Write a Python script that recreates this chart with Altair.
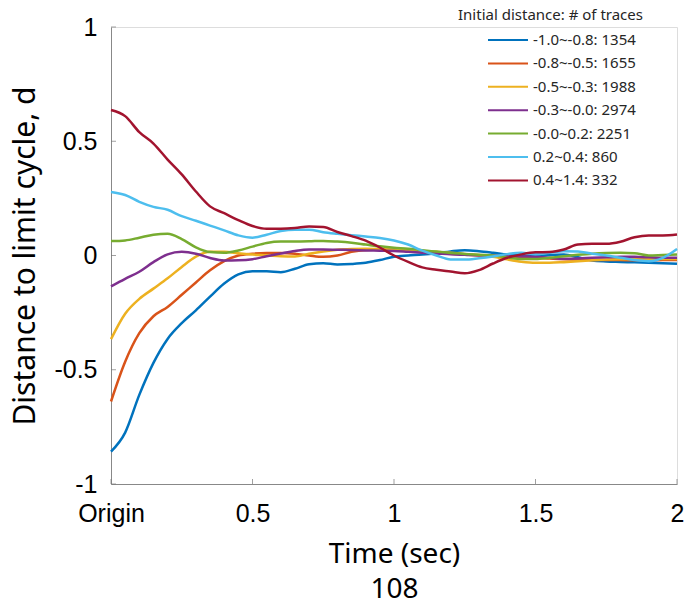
import altair as alt
import pandas as pd

# ---- data ----
TIME = [round(i * 0.05, 2) for i in range(41)]

SERIES = ["-1.0~-0.8: 1354", "-0.8~-0.5: 1655", "-0.5~-0.3: 1988",
          "-0.3~-0.0: 2974", "-0.0~0.2: 2251", "0.2~0.4: 860", "0.4~1.4: 332"]
COLORS = ["#0072BD", "#D95319", "#EDB120", "#7E2F8E", "#77AC30", "#4DBEEE", "#A2142F"]

BLUE = [-0.858, -0.775, -0.61, -0.47, -0.365, -0.296, -0.24, -0.18, -0.123, -0.083,
        -0.069, -0.069, -0.073, -0.058, -0.038, -0.034, -0.039, -0.037, -0.032, -0.02,
        -0.005, 0.0, 0.004, 0.01, 0.018, 0.023, 0.019, 0.012, 0.004, 0.0,
        -0.003, 0.002, 0.004, -0.008, -0.022, -0.026, -0.028, -0.03, -0.032, -0.034, -0.036]
ORANGE = [-0.639, -0.465, -0.34, -0.266, -0.225, -0.172, -0.118, -0.065, -0.025, 0.0,
          0.008, 0.011, 0.011, 0.008, 0.0, -0.006, 0.0, 0.016, 0.024, 0.026,
          0.026, 0.022, 0.017, 0.012, 0.008, 0.004, 0.0, -0.003, -0.006, -0.009,
          -0.01, -0.013, -0.016, -0.018, -0.02, -0.02, -0.02, -0.021, -0.021, -0.02, -0.02]
YELLOW = [-0.366, -0.255, -0.19, -0.145, -0.1, -0.05, -0.005, 0.016, 0.016, 0.01,
          0.004, 0.001, -0.003, -0.004, 0.008, 0.018, 0.025, 0.028, 0.029, 0.028,
          0.026, 0.024, 0.02, 0.016, 0.012, 0.007, 0.002, -0.005, -0.017, -0.027,
          -0.032, -0.032, -0.029, -0.025, -0.021, -0.018, -0.016, -0.015, -0.015, -0.015, -0.015]
PURPLE = [-0.135, -0.102, -0.071, -0.029, 0.005, 0.016, 0.008, -0.011, -0.022, -0.021,
          -0.016, -0.003, 0.009, 0.02, 0.026, 0.026, 0.025, 0.024, 0.022, 0.021,
          0.02, 0.016, 0.012, 0.009, 0.005, 0.003, 0.001, 0.0, -0.002, -0.004,
          -0.006, -0.01, -0.014, -0.013, -0.01, -0.008, -0.006, -0.006, -0.008, -0.01, -0.01]
GREEN = [0.063, 0.066, 0.078, 0.091, 0.095, 0.072, 0.036, 0.015, 0.012, 0.022,
         0.039, 0.055, 0.061, 0.061, 0.062, 0.064, 0.061, 0.056, 0.048, 0.04,
         0.034, 0.03, 0.023, 0.017, 0.011, 0.007, 0.003, 0.0, -0.008, -0.015,
         -0.015, -0.01, -0.003, 0.003, 0.008, 0.011, 0.012, 0.01, 0.0, 0.002, 0.004]
LIGHTBLUE = [0.278, 0.265, 0.235, 0.213, 0.2, 0.172, 0.152, 0.131, 0.11, 0.088,
             0.078, 0.091, 0.107, 0.113, 0.113, 0.102, 0.095, 0.089, 0.083, 0.077,
             0.066, 0.048, 0.021, 0.0, -0.017, -0.018, -0.012, -0.004, 0.006, 0.012,
             0.006, 0.012, 0.019, 0.017, 0.008, 0.0, -0.01, -0.02, -0.025, -0.01, 0.029]
RED = [0.637, 0.61, 0.54, 0.49, 0.42, 0.355, 0.28, 0.215, 0.185, 0.155,
       0.129, 0.117, 0.117, 0.12, 0.127, 0.125, 0.103, 0.085, 0.065, 0.035,
       0.0, -0.028, -0.052, -0.062, -0.07, -0.078, -0.064, -0.035, -0.01, 0.005,
       0.014, 0.015, 0.026, 0.048, 0.051, 0.051, 0.06, 0.08, 0.088, 0.088, 0.092]

VALUES = [BLUE, ORANGE, YELLOW, PURPLE, GREEN, LIGHTBLUE, RED]

X_TICKS = [0, 0.5, 1, 1.5, 2]
X_TICK_LABELS = ["Origin", "0.5", "1", "1.5", "2"]
Y_TICKS = [-1, -0.5, 0, 0.5, 1]
Y_TICK_LABELS = ["-1", "-0.5", "0", "0.5", "1"]

rows = []
for name, vals in zip(SERIES, VALUES):
    for t, v in zip(TIME, vals):
        rows.append({"t": t, "d": v, "series": name})
df = pd.DataFrame(rows)

def label_expr(ticks, labels):
    parts = " : ".join(f"datum.value == {v} ? '{l}'" for v, l in zip(ticks, labels))
    return parts + " : ''"

FONT = "Noto Sans"
TXT = "#262626"
W, H = 566, 457

x_scale = alt.Scale(domain=[0, 2], nice=False)
y_scale = alt.Scale(domain=[-1, 1], nice=False)

lines = alt.Chart(df).mark_line(strokeWidth=2.5, interpolate="monotone").encode(
    x=alt.X("t:Q", scale=x_scale,
            axis=alt.Axis(values=X_TICKS, labelExpr=label_expr(X_TICKS, X_TICK_LABELS),
                          title=["Time (sec)", "108"], titleLineHeight=35,
                          titleBaseline="top", titleY=56, titleFontSize=28,
                          titleFontWeight="normal", titleFont=FONT,
                          labelFontSize=25, labelPadding=17, tickSize=0,
                          labelOverlap=False, labelFlush=False, grid=False)),
    y=alt.Y("d:Q", scale=y_scale,
            axis=alt.Axis(values=Y_TICKS, labelExpr=label_expr(Y_TICKS, Y_TICK_LABELS),
                          title="Distance to limit cycle, d", titleFontSize=30,
                          titleFontWeight="normal", titleFont=FONT,
                          titleX=-86, titleY=H / 2, titleBaseline="middle",
                          titleAlign="center", titleAngle=-90,
                          labelFontSize=25, labelPadding=14, tickSize=0,
                          labelOverlap=False, grid=False)),
    color=alt.Color("series:N",
                    scale=alt.Scale(domain=SERIES, range=COLORS),
                    sort=SERIES,
                    legend=alt.Legend(title="Initial distance: # of traces",
                                      orient="none", legendX=347, legendY=-19,
                                      symbolType="M-2,0L2,0", symbolSize=400,
                                      symbolStrokeWidth=2, symbolOffset=39,
                                      labelFontSize=15, titleFontSize=15,
                                      titleFontWeight="normal", labelOffset=14,
                                      titlePadding=6, rowPadding=4.4, titleLimit=400,
                                      labelLimit=300,
                                      labelColor=TXT, titleColor=TXT,
                                      labelFont=FONT, titleFont=FONT)),
)

xticks_df = pd.DataFrame({"v": X_TICKS})
yticks_df = pd.DataFrame({"v": Y_TICKS})

xt = alt.Chart(xticks_df).mark_tick(orient="vertical", size=5, thickness=1,
                                    color="#777777").encode(
    x=alt.X("v:Q", scale=x_scale), y=alt.value(H - 2.5))
yt = alt.Chart(yticks_df).mark_tick(orient="horizontal", size=5, thickness=1,
                                    color="#777777").encode(
    y=alt.Y("v:Q", scale=y_scale), x=alt.value(2.5))

chart = alt.layer(lines, xt, yt).properties(
    width=W, height=H,
    autosize=alt.AutoSizeParams(type="none"),
    padding={"left": 111, "top": 27, "right": 10, "bottom": 126},
).configure_view(stroke=None).configure_axis(
    domainColor="#777777", domainWidth=1, labelColor=TXT, titleColor=TXT,
    labelFont=FONT, titleFont=FONT, titleFontWeight="normal",
).configure(background="white")

chart.save("out.html", embed_options={"renderer": "svg", "actions": False})
